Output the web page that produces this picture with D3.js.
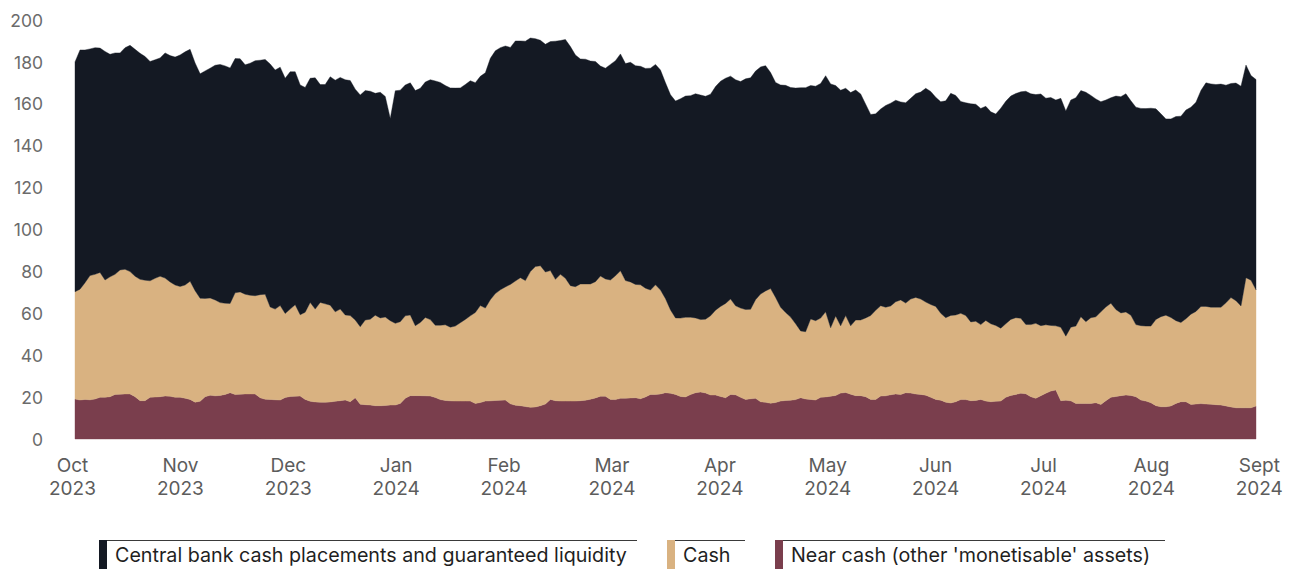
<!DOCTYPE html>
<html>
<head>
<meta charset="utf-8">
<script src="https://cdn.jsdelivr.net/npm/d3@7"></script>
<style>
  html, body { margin: 0; padding: 0; background: #ffffff; }
  svg { display: block; font-family: Inter, "Noto Sans", sans-serif; }
</style>
</head>
<body>
<svg id="chart" width="1296" height="569"></svg>
<script>
const centralBank = [
109.7,114.2,111.1,108.2,108.2,107.1,109.1,106.2,105.7,103.6,105.8,108,108.3,107.9,106.8,104.7,104.3,104.2,107.5,108,
108.8,110.5,111.3,110.7,108.7,107.1,108.6,109.7,112,113.7,113.3,112.4,111.8,111.3,109.5,110.8,112.2,111.9,112.1,116,
114.1,113.8,112.3,113.3,111.2,109.7,107.3,107,110.4,104,104.7,109,110.6,110.6,112.3,112.2,110.2,110.6,109.5,108.8,
105.9,107.7,105.3,96.5,111,110.5,110.2,110.8,112.2,111.8,112.4,114.5,116.6,115.9,114.2,114.2,113.6,112.1,112.1,112.2,
109.7,109.4,112.3,115.2,115.9,115.6,115,113.1,114.6,113,114.3,111.5,108.8,107.6,108.7,109.3,113.7,111.6,114,114.1,
110.6,107.4,107.3,106.4,105.1,100.2,100.6,102.9,102.7,103.5,103.6,104.8,104.4,104.3,104.9,105.9,105.2,105,103,102.7,
103.5,104.7,105.6,105.8,107,107.2,106.4,105.8,106.7,107.5,107.5,106.4,107.9,108.1,110.1,110.5,109.1,108.4,107.5,103.1,
102.6,106.1,108.4,109.6,112.5,116.1,116.5,111.4,111.9,112,112.7,116.4,110,112.5,108.5,111.4,109.8,107.9,102,96,
93.8,93.9,96.3,96.8,96.2,94.5,95.6,95.8,97.2,98.8,102,101.7,99.8,101,103.5,106,104.8,101.1,101.6,104.1,
103.6,103.2,102.2,101.2,100.9,105,106.2,106.6,107,108.1,111.3,110.2,109.2,110.6,108.2,108.8,107.8,109.3,107.5,108.4,
109,107.9,109.5,106.1,104,100.3,98.8,98.1,101.9,103.2,104.2,102.3,103.8,103.7,103.8,104,100.5,96.8,93.7,94.8,
97.4,98.5,99.6,98.8,99.8,103.1,106.7,106.6,106.3,106.5,103.9,102.2,103.9,104.9,101.5,97.7,100.4
];
const cash = [
51.2,52.9,55.7,59.3,59.5,59.6,56,57.2,57.3,59.3,59.5,58.4,57.5,57.9,57.5,55.6,56.7,57.5,56.3,54.6,
53.6,52.9,54,56.4,53.2,49.2,46.9,46.4,45.8,44.3,43.5,42.6,48.6,48.8,47.6,47.1,46.9,49.2,50.1,44.1,
43.3,45.1,40.1,41.7,43.7,38.8,41.6,47.2,44.3,47.6,47,46.2,42.7,43.7,40.6,41.1,37.1,37,40.4,41,
43.2,41.9,42.2,40.3,39,39,39.3,38.5,33.4,34.9,37.4,36.5,34.5,35.5,36.1,35.2,35.8,37.4,39,40.7,
43.4,46.3,44.4,48.3,51,52.7,54,57,59.3,61.1,60.1,64.8,67,66.8,63,61.5,57.9,60.5,58.6,55.1,
54.6,55.7,55.5,55,55.5,57.4,56,57,59.1,60.9,56.1,55.4,54.1,54.4,51.9,49.8,52.3,49.6,44.9,39.8,
36.5,37.4,38,36.9,35.7,34.6,35.2,37.8,40.5,43,45,45.5,42.5,42.6,42.9,42.7,47.1,51.4,53.2,54.7,
50.2,44.8,42,39.7,36.2,31.9,32.1,38.4,37.9,37.8,40.6,32.7,37.9,32.1,36.7,32.6,36.1,36.1,37.6,40,
42.5,43.1,42.3,42.4,44,45.2,42.8,44.9,46.1,45.5,44.5,44.3,44.4,41.5,40.3,41.8,41.4,41.2,40.1,37.6,
37.8,35.7,38.5,37.2,36.2,34.8,35.1,36.3,36.6,35.8,33.1,34.4,35.8,33.5,32.7,31.3,30.6,35,30.6,35.2,
36.9,41.4,39,40.9,41,44.2,44.7,44.9,41.5,39.5,39.6,38.3,34.4,35.5,35.8,36.6,41.2,43,43.7,42.2,
39.5,37.8,39.6,43.1,44.2,46.4,46.6,46.3,46.5,46.7,49.2,52.2,51.1,48.6,62.1,60.9,55.5
];
const nearCash = [
19.1,18.6,18.9,18.7,19.1,19.9,19.9,20.2,21.3,21.4,21.5,21.5,20.2,18.3,18.3,19.9,20,20.2,20.5,20.4,
19.9,19.9,19.5,18.9,17.6,18,20.2,20.9,20.6,20.8,21.3,22.1,21.2,21.4,21.5,21.5,21.5,19.7,19,18.9,
18.7,18.6,19.8,20.3,20.4,20.5,18.9,18,17.7,17.6,17.5,17.7,18,18.3,18.6,17.8,19.7,16.6,16.4,16.2,
15.9,15.9,16,16.2,16.2,17,19.5,20.7,20.7,20.7,20.6,20.5,19.8,18.8,18.4,18.2,18.1,18.1,18.1,18.1,
17,17.4,18.1,18.2,18.4,18.5,18.6,16.8,16.1,15.9,15.5,15.1,15.3,15.9,16.7,18.9,18.3,18.1,18.1,18.1,
18.1,18.3,18.5,19,19.6,20.4,20.4,18.9,18.8,19.4,19.5,19.6,19.7,19.2,20.1,21.3,21.3,21.5,22.1,21.8,
21.3,20.3,20.1,21.2,22.1,22.4,22,21,21,20.3,19.7,21.3,21.1,19.9,18.9,19.2,19.4,17.8,17.5,17.1,
17.4,18.1,18.4,18.5,18.8,19.7,19.1,18.9,18.6,19.9,20.1,20.4,20.8,21.9,22.2,21.4,20.7,20.7,20.2,18.9,
18.9,20.5,20.6,21.1,21.5,21.2,22.1,21.9,21.5,21.3,20.9,19.9,18.9,18.5,17.6,17.2,17.8,18.8,18.8,18.3,
18.4,18.9,18.1,17.8,18,18.1,19.9,20.8,21.3,21.8,21.6,20.2,19.4,20.6,21.8,22.9,23.4,18.3,18.5,18.2,
17,17,17,17,17.3,16.5,18.3,19.9,20.3,20.7,21,20.8,20.2,18.6,18.1,17.3,15.9,15.4,15.4,15.8,
17,17.8,17.8,16.5,16.7,16.9,16.7,16.6,16.4,16.2,15.8,15.3,14.9,14.9,14.9,14.9,15.7
];
const monthLabels = ["Oct","Nov","Dec","Jan","Feb","Mar","Apr","May","Jun","Jul","Aug","Sept"];
const yearLabels  = ["2023","2023","2023","2024","2024","2024","2024","2024","2024","2024","2024","2024"];
const yTickValues = [0,20,40,60,80,100,120,140,160,180,200];
const seriesNames = ["Central bank cash placements and guaranteed liquidity","Cash","Near cash (other 'monetisable' assets)"];

// ---- Layout ----
const colors = { central: "#141923", cash: "#d9b281", near: "#7a3e4d" };
const obsPerMonth = 21.56;      // business days per axis month
const firstObsOffset = 0.5;     // first observation sits half a day after the month tick

const svg = d3.select("#chart");
const n = nearCash.length;
const rows = d3.range(n).map(i => ({ i, near: nearCash[i], cash: cash[i], central: centralBank[i] }));

const x = d3.scaleLinear().domain([0, n - 1]).range([75, 1256]);
const y = d3.scaleLinear().domain([0, 200]).range([439, 20]);

const stack = d3.stack().keys(["near", "cash", "central"]);
const layers = stack(rows);
const area = d3.area()
  .x(d => x(d.data.i))
  .y0(d => y(d[0]))
  .y1(d => y(d[1]))
  .curve(d3.curveLinear);

const fillOf = { near: colors.near, cash: colors.cash, central: colors.central };
svg.append("g").selectAll("path").data(layers).join("path")
  .attr("d", area)
  .attr("fill", d => fillOf[d.key])
  .attr("stroke", d => fillOf[d.key])
  .attr("stroke-width", 0.4);

// Y axis labels
const yAxis = d3.axisLeft(y).tickValues(yTickValues).tickSize(0).tickPadding(0);
const gy = svg.append("g").attr("transform", "translate(43,0)").call(yAxis);
gy.select(".domain").remove();
gy.selectAll("text").attr("fill", "#6b6b6b").attr("font-size", 17.5)
  .attr("font-family", "Inter, sans-serif").attr("dy", "0.35em");

// X axis labels (two lines)
const tickIdx = m => m * obsPerMonth - firstObsOffset;
const gx = svg.append("g");
monthLabels.forEach((lab, m) => {
  const t = gx.append("text")
    .attr("x", x(tickIdx(m)))
    .attr("text-anchor", "middle")
    .attr("fill", "#5c5c5c")
    .attr("font-size", 19);
  t.append("tspan").attr("x", x(tickIdx(m))).attr("y", 472).text(lab);
  t.append("tspan").attr("x", x(tickIdx(m))).attr("y", 495).text(yearLabels[m]);
});

// Legend
const legendItems = [
  { name: seriesNames[0], color: colors.central, left: 99, right: 637 },
  { name: seriesNames[1], color: colors.cash, left: 667, right: 745 },
  { name: seriesNames[2], color: colors.near, left: 775, right: 1165 }
];
const lg = svg.append("g");
legendItems.forEach(it => {
  lg.append("line")
    .attr("x1", it.left).attr("x2", it.right)
    .attr("y1", 540.5).attr("y2", 540.5)
    .attr("stroke", "#3a3a3a").attr("stroke-width", 1);
  lg.append("rect")
    .attr("x", it.left).attr("y", 540)
    .attr("width", 8).attr("height", 29)
    .attr("fill", it.color);
  lg.append("text")
    .attr("x", it.left + 16).attr("y", 562)
    .attr("fill", "#1f1f1f")
    .attr("font-size", 19.7)
    .text(it.name);
});
</script>
</body>
</html>
